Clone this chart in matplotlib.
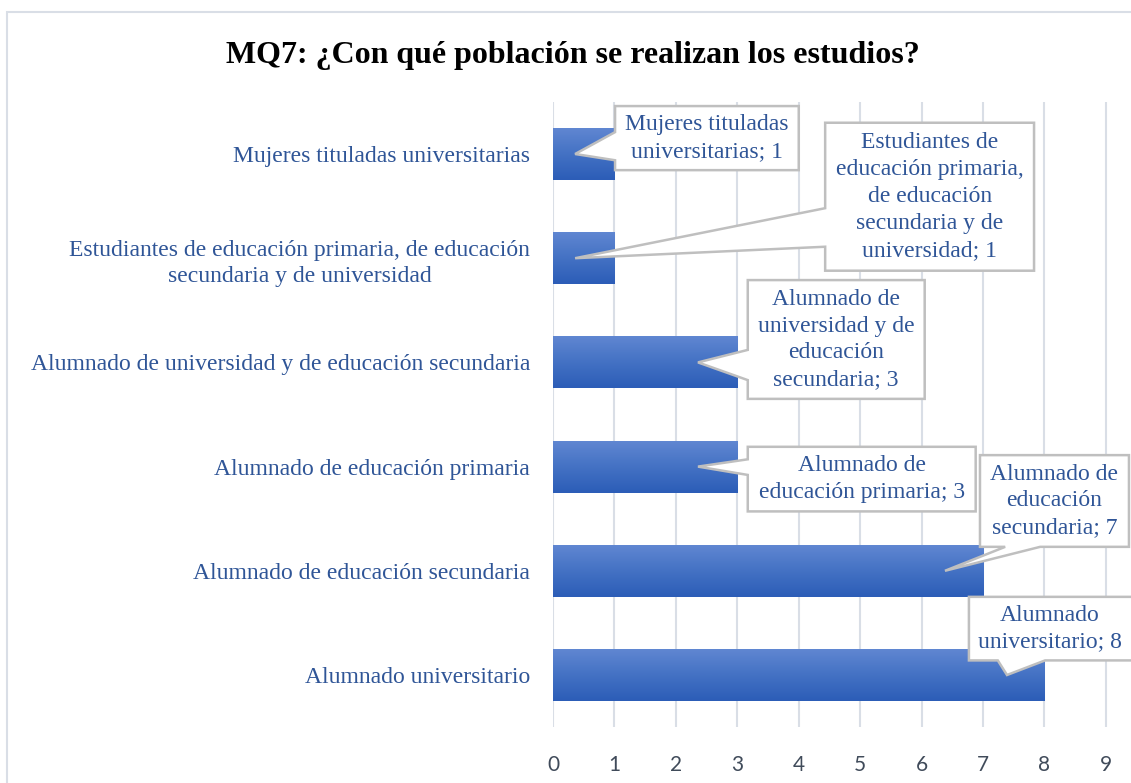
import matplotlib
matplotlib.use('Agg')
import matplotlib.pyplot as plt
from matplotlib.patches import Polygon, Rectangle
from matplotlib.colors import LinearSegmentedColormap
import numpy as np

# ===== Data =====
categories = [
    'Mujeres tituladas universitarias',
    'Estudiantes de educación primaria, de educación\nsecundaria y de universidad',
    'Alumnado de universidad y de educación secundaria',
    'Alumnado de educación primaria',
    'Alumnado de educación secundaria',
    'Alumnado universitario',
]
values = [1, 1, 3, 3, 7, 8]
callout_texts = [
    'Mujeres tituladas\nuniversitarias; 1',
    'Estudiantes de\neducación primaria,\nde educación\nsecundaria y de\nuniversidad; 1',
    'Alumnado de\nuniversidad y de\neducación\nsecundaria; 3',
    'Alumnado de\neducación primaria; 3',
    'Alumnado de\neducación\nsecundaria; 7',
    'Alumnado\nuniversitario; 8',
]
x_ticks = list(range(0, 10))
title = 'MQ7: ¿Con qué población se realizan los estudios?'

# ===== Callout layout (box x0, x1, y0, y1; wedge side, base a, base b; tip dx) =====
boxes = [
    (1.01, 4.00, -0.46, 0.155, 'left', -0.21, 0.06, -0.64),
    (4.43, 7.83, -0.30, 1.12, 'left', 0.52, 0.89, -0.64),
    (3.17, 6.05, 1.21, 2.35, 'left', 1.88, 2.17, -0.64),
    (3.17, 6.88, 2.81, 3.43, 'left', 2.93, 3.08, -0.64),
    (6.95, 9.375, 2.89, 3.77, 'bottom', 7.36, 7.93, -0.62),
    (6.77, 9.50, 4.25, 4.86, 'bottom', 7.24, 8.01, -0.61),
]

TXT_BLUE = '#2F5597'
GRID = '#D9DEE6'
EDGE = '#BFBFBF'
SERIF = ['Liberation Serif', 'DejaVu Serif']

fig = plt.figure(figsize=(11.31, 7.83), dpi=100)
W, H = 1131, 783

# outer chart frame (partially cropped)
fig.patches.append(Rectangle((7 / W, -0.1), 1.2, (H - 12) / H + 0.1, transform=fig.transFigure,
                             fill=False, edgecolor='#D9DEE6', linewidth=1.5))

ax = fig.add_axes([553 / W, 55.9 / H, 577.5 / W, 625.2 / H])
ax.set_xlim(0, 9.4)
ax.set_ylim(5.5, -0.5)
ypos = np.arange(len(categories))

bars = ax.barh(ypos, values, height=0.5, color='none', edgecolor='none', zorder=2)
cmap = LinearSegmentedColormap.from_list('g', ['#6187D2', '#4472C4', '#2C5DB7'])
grad = np.linspace(0, 1, 100).reshape(-1, 1)
for bar, y, v in zip(bars, ypos, values):
    im = ax.imshow(grad, cmap=cmap, aspect='auto', origin='upper',
                   extent=(0, v, y + 0.25, y - 0.25), zorder=2)
    im.set_clip_path(bar)
ax.set_xlim(0, 9.4)
ax.set_ylim(5.5, -0.5)

ax.set_xticks(x_ticks)
ax.set_xticklabels([str(t) for t in x_ticks], fontsize=15, color='#404B5A', family=['Lato', 'DejaVu Sans'])
ax.set_yticks(ypos)
ylabels = ax.set_yticklabels(categories, fontsize=17, color=TXT_BLUE, family=SERIF, multialignment='center')
for lb in ylabels:
    lb.set_linespacing(1.35)
ax.tick_params(axis='both', length=0)
ax.tick_params(axis='y', pad=16.5)
ax.tick_params(axis='x', pad=20)
ax.grid(axis='x', color=GRID, linewidth=1.5, zorder=0)
ax.set_axisbelow(True)
for s in ax.spines.values():
    s.set_visible(False)

# callouts
for (x0, x1, y0, y1, side, ba, bb, dx), y, v, txt in zip(boxes, ypos, values, callout_texts):
    tip = (v + dx, y)
    if side == 'left':
        verts = [(x0, y0), (x1, y0), (x1, y1), (x0, y1), (x0, bb), tip, (x0, ba)]
    else:
        verts = [(x0, y0), (x1, y0), (x1, y1), (bb, y1), tip, (ba, y1), (x0, y1)]
    poly = Polygon(verts, closed=True, facecolor='white', edgecolor=EDGE,
                   linewidth=1.8, zorder=4, clip_on=False)
    ax.add_patch(poly)
    ax.text((x0 + min(x1, 9.4)) / 2, (y0 + y1) / 2, txt, ha='center', va='center',
            fontsize=17, color=TXT_BLUE, family=SERIF, linespacing=1.37, zorder=5, clip_on=False)

fig.text(573 / W, 1 - 55 / H, title, ha='center', va='center', fontsize=23,
         fontweight='bold', family=SERIF, color='black')

plt.savefig('out.png', dpi=100)
plt.close()
